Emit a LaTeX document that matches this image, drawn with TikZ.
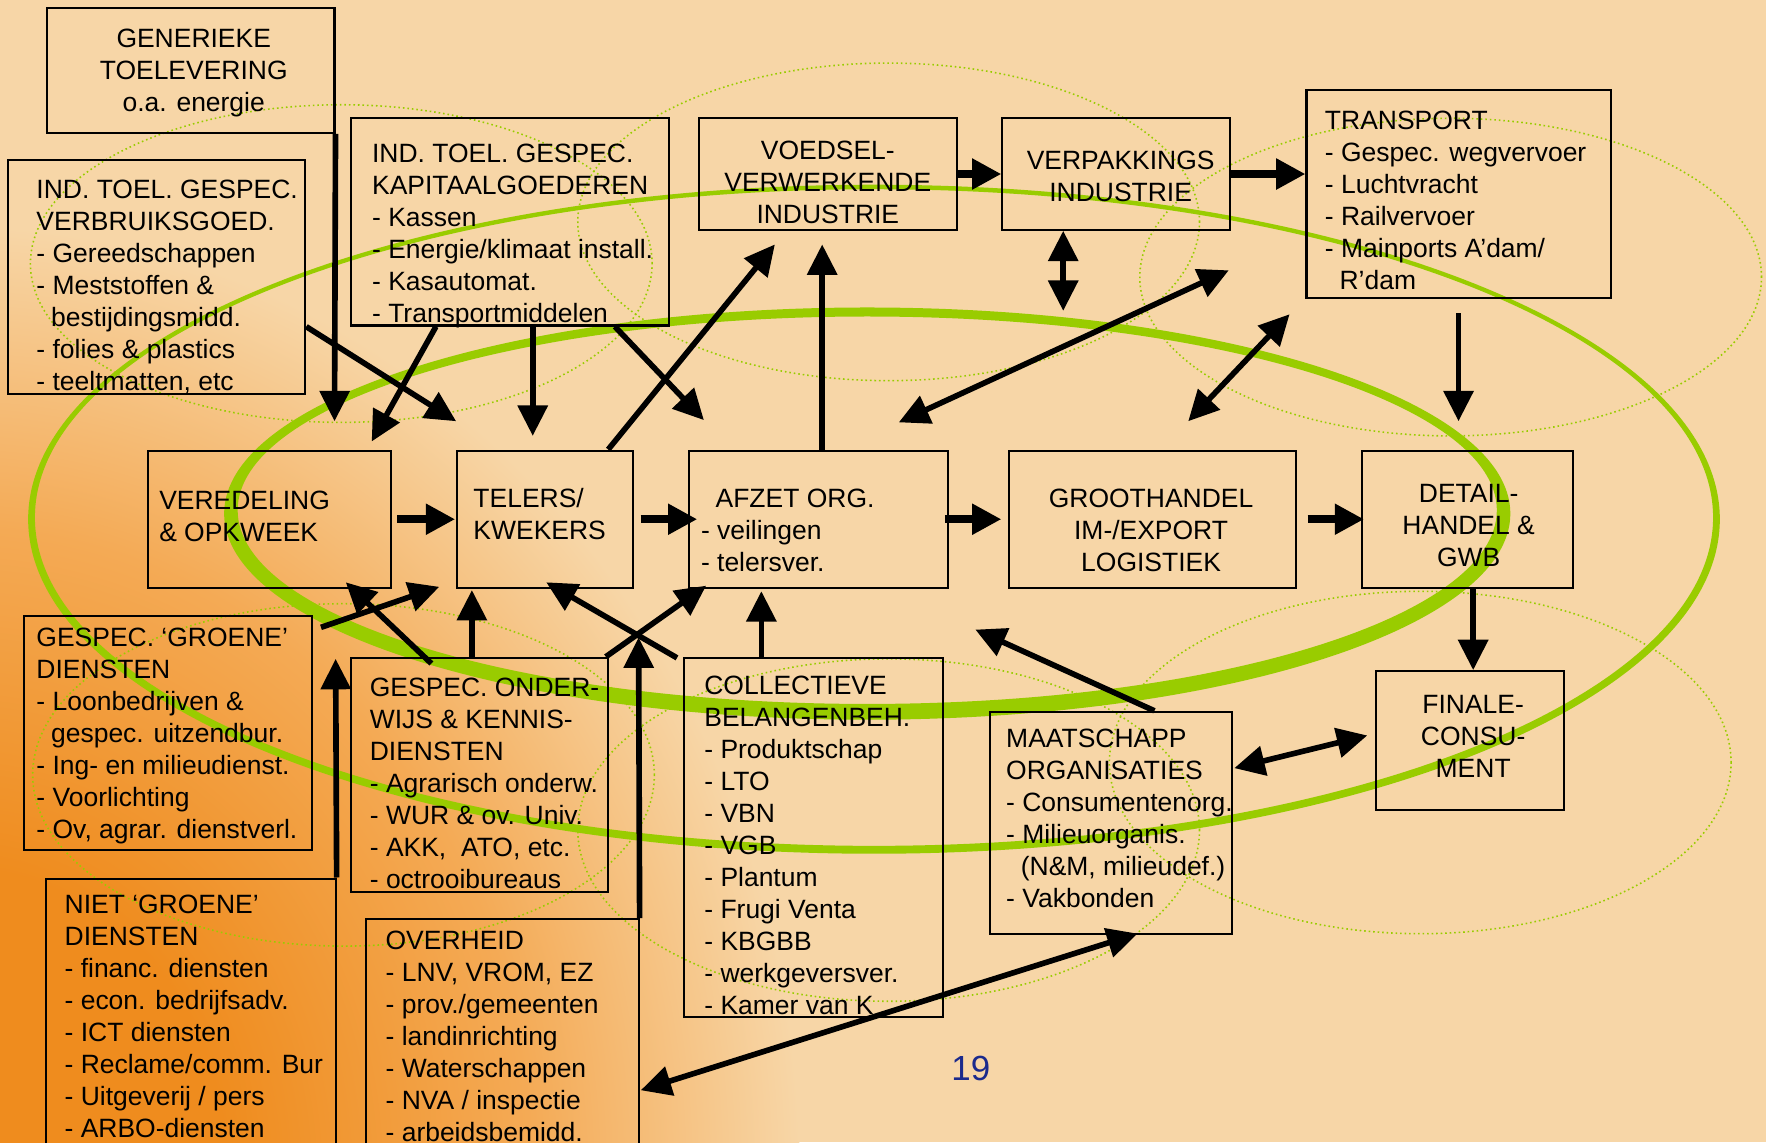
\documentclass[tikz,border=0pt]{standalone}
\usepackage{fontspec}
\setmainfont{Liberation Sans}
\usetikzlibrary{arrows.meta,fit}

\definecolor{peach}{HTML}{F7D6A7}
\definecolor{deeporange}{HTML}{EF8C1E}
\definecolor{midorange}{HTML}{F4AA55}
\definecolor{leaf}{HTML}{99CC00}
\definecolor{pagenum}{HTML}{1B2A8C}

\pgfdeclareradialshading{glow}{\pgfpoint{0bp}{0bp}}{%
  color(0bp)=(deeporange); color(8bp)=(deeporange); color(17bp)=(midorange);
  color(25bp)=(peach); color(50bp)=(peach)}

% zero-width strut fixing the top of every text block
\newcommand\firststrut{\rule{0pt}{10pt}}
\newcommand\indentln{\hspace*{6.5pt}}

\tikzset{
  bigtri/.tip={Triangle[length=13.5pt,width=13pt]},
  flowtri/.tip={Triangle[length=13pt,width=13pt]},
}

\begin{document}
\begin{tikzpicture}[x=0.5pt,y=-0.5pt,
  font=\fontsize{11.75pt}{14.2pt}\selectfont,
  panel/.style={draw=black, line width=0.9pt, inner sep=0pt},
  ltxt/.style={inner sep=0pt, align=left, anchor=north west},
  ctxt/.style={inner sep=0pt, align=center, anchor=north},
  halo/.style={draw=leaf, line width=0.7pt, dash pattern=on 0.7pt off 1.3pt},
  link/.style={line width=2.5pt, -bigtri},
  link2/.style={line width=2.5pt, bigtri-bigtri},
  flow/.style={line width=3.7pt, -flowtri},
]
\useasboundingbox (0,0) rectangle (1568,1014);
\begin{scope}
\clip (0,0) rectangle (1568,1014);

% background with orange glow in the lower left corner
\fill[peach] (0,0) rectangle (1568,1014);
\shade[shading=glow] (-40,1040) ellipse [x radius=375pt, y radius=420pt];

% dotted rings
\draw[halo] (303,234) ellipse [x radius=138pt, y radius=70.5pt];
\draw[halo] (789,197) ellipse [x radius=138pt, y radius=70.5pt];
\draw[halo] (1288,246) ellipse [x radius=138pt, y radius=70.5pt];
\draw[halo] (305,688) ellipse [x radius=138pt, y radius=76pt];
\draw[halo] (789,737) ellipse [x radius=138pt, y radius=76pt];
\draw[halo] (1261,677) ellipse [x radius=138pt, y radius=76pt];

% green rings: outer thin, inner thick
\fill[leaf, even odd rule] (776,461) ellipse [x radius=375.5pt, y radius=148.5pt]
                           (776,459.5) ellipse [x radius=372.5pt, y radius=145.75pt];
\fill[leaf, even odd rule] (770,456) ellipse [x radius=285.5pt, y radius=91.5pt]
                           (770,453) ellipse [x radius=279.5pt, y radius=86pt];

% boxes
\node[panel, fit={(42,7) (297,118)}] (gen) {};
\node[panel, fit={(7,142) (271,350)}] (verbr) {};
\node[panel, fit={(312,105) (594,289)}] (kap) {};
\node[panel, fit={(621,105) (850,204)}] (voed) {};
\node[panel, fit={(890,105) (1092,204)}] (verp) {};
\node[panel, fit={(1160,80) (1430,265)}] (trans) {};
\node[panel, fit={(131,400) (347,522)}] (ver) {};
\node[panel, fit={(406,400) (562,522)}] (tel) {};
\node[panel, fit={(612,400) (842,522)}] (afz) {};
\node[panel, fit={(896,400) (1151,522)}] (gro) {};
\node[panel, fit={(1209,400) (1397,522)}] (det) {};
\node[panel, fit={(21,547) (277,755)}] (groen) {};
\node[panel, fit={(312,584) (540,792)}] (ond) {};
\node[panel, fit={(607,584) (837,903)}] (col) {};
\node[panel, fit={(879,632) (1094,829)}] (maat) {};
\node[panel, fit={(1222,596) (1389,719)}] (fin) {};
\node[panel, fit={(41,780) (298,1030)}] (niet) {};
\node[panel, fit={(325,816) (567,1030)}] (ovh) {};

% box texts
\node[ctxt] (gen-t) at (172,22) {\firststrut GENERIEKE\\TOELEVERING\\o.a. energie};
\node[ltxt] (verbr-t) at (32,156) {\firststrut IND. TOEL. GESPEC.\\VERBRUIKSGOED.\\- Gereedschappen\\- Meststoffen \&\\\indentln bestijdingsmidd.\\- folies \& plastics\\- teeltmatten, etc};
\node[ltxt] (kap-t) at (330,124) {\firststrut IND. TOEL. GESPEC.\\KAPITAALGOEDEREN\\- Kassen\\- Energie/klimaat install.\\- Kasautomat.\\- Transportmiddelen};
\node[ctxt] (voed-t) at (735,121) {\firststrut VOEDSEL-\\VERWERKENDE\\INDUSTRIE};
\node[ctxt] (verp-t) at (995,130) {\firststrut VERPAKKINGS\\INDUSTRIE};
\node[ltxt] (trans-t) at (1176,95) {\firststrut TRANSPORT\\- Gespec. wegvervoer\\- Luchtvracht\\- Railvervoer\\- Mainports A’dam/\\\indentln R’dam};
\node[ltxt] (ver-t) at (141,432) {\firststrut VEREDELING\\\& OPKWEEK};
\node[ltxt] (tel-t) at (420,430) {\firststrut TELERS/\\KWEKERS};
\node[ltxt] (afz-t) at (622,430) {\firststrut\indentln AFZET ORG.\\- veilingen\\- telersver.};
\node[ctxt] (gro-t) at (1022,430) {\firststrut GROOTHANDEL\\IM-/EXPORT\\LOGISTIEK};
\node[ctxt] (det-t) at (1304,426) {\firststrut DETAIL-\\HANDEL \&\\GWB};
\node[ltxt] (groen-t) at (32,554) {\firststrut GESPEC. ‘GROENE’\\DIENSTEN\\- Loonbedrijven \&\\\indentln gespec. uitzendbur.\\- Ing- en milieudienst.\\- Voorlichting\\- Ov, agrar. dienstverl.};
\node[ltxt] (ond-t) at (328,598) {\firststrut GESPEC. ONDER-\\WIJS \& KENNIS-\\DIENSTEN\\- Agrarisch onderw.\\- WUR \& ov. Univ.\\- AKK,\ \ ATO, etc.\\- octrooibureaus};
\node[ltxt] (col-t) at (625,596) {\firststrut COLLECTIEVE\\BELANGENBEH.\\- Produktschap\\- LTO\\- VBN\\- VGB\\- Plantum\\- Frugi Venta\\- KBGBB\\- werkgeversver.\\- Kamer van K};
\node[ltxt] (maat-t) at (893,643) {\firststrut MAATSCHAPP\\ORGANISATIES\\- Consumentenorg.\\- Milieuorganis.\\\indentln (N\&M, milieudef.)\\- Vakbonden};
\node[ctxt] (fin-t) at (1308,613) {\firststrut FINALE-\\CONSU-\\MENT};
\node[ltxt] (niet-t) at (57,791) {\firststrut NIET ‘GROENE’\\DIENSTEN\\- financ. diensten\\- econ. bedrijfsadv.\\- ICT diensten\\- Reclame/comm. Bur\\- Uitgeverij / pers\\- ARBO-diensten};
\node[ltxt] (ovh-t) at (342,823) {\firststrut OVERHEID\\- LNV, VROM, EZ\\- prov./gemeenten\\- landinrichting\\- Waterschappen\\- NVA / inspectie\\- arbeidsbemidd.};

\node[font=\fontsize{15.5pt}{18pt}\selectfont, text=pagenum, inner sep=0pt] (pg) at (862,949) {19};

% free arrow ends
\coordinate (genTip) at (297,374);
\coordinate (verbrTip) at (405,374);
\coordinate (kapTipA) at (330,392);
\coordinate (kapTipB) at (473,387);
\coordinate (kapTipC) at (625,373);
\coordinate (voedTipA) at (688,217);
\coordinate (voedTipB) at (730,217);
\coordinate (verpTip) at (944,276);
\coordinate (hubA) at (798,375);
\coordinate (hubB) at (1091,240);
\coordinate (hubC) at (1055,374);
\coordinate (hubD) at (1145,279);
\coordinate (detTop) at (1295,374);
\coordinate (finTop) at (1308,595);
\coordinate (groenStart) at (285,557);
\coordinate (telTipA) at (390,521);
\coordinate (verTip) at (307,517);
\coordinate (afzTipA) at (627,520);
\coordinate (telTipB) at (485,517);
\coordinate (maatTip) at (866,559);
\coordinate (finSide) at (1214,653);
\coordinate (nietTip) at (298,585);
\coordinate (ovhTip) at (567,566);

% supply side
\draw[link] (gen.south east) -- (genTip);
\draw[link] ([shift={(0,44)}]verbr.east) -- (verbrTip);
\draw[link] ([shift={(76,0)}]kap.south west) -- (kapTipA);
\draw[link] ([shift={(20,0)}]kap.south) -- (kapTipB);
\draw[link] ([shift={(-49,0)}]kap.south east) -- (kapTipC);
\draw[link] ([shift={(56,0)}]tel.north) -- (voedTipA);
\draw[link] ([shift={(3,0)}]afz.north) -- (voedTipB);
\draw[flow] (voed.east) -- (verp.west);
\draw[flow] (verp.east) -- (verp.east -| trans.west);
\draw[link2] ([shift={(-47,0)}]verp.south) -- (verpTip);
\draw[link2] (hubA) -- (hubB);
\draw[link2] (hubC) -- (hubD);
\draw[link] ([shift={(0,12)}]trans.south) -- (detTop);

% main chain
\draw[flow] ([shift={(5,0)}]ver.east) -- ([shift={(-1,0)}]tel.west);
\draw[flow] ([shift={(6,0)}]tel.east) -- ([shift={(8,0)}]afz.west);
\draw[flow] ([shift={(-4,0)}]afz.east) -- ([shift={(-6,0)}]gro.west);
\draw[flow] ([shift={(9,0)}]gro.east) -- ([shift={(3,0)}]det.west);
\draw[link] ([shift={(5,0)}]det.south) -- (finTop);

% services and organisations
\draw[link] (groenStart) -- (telTipA);
\draw[link] ([shift={(-43,6)}]ond.north) -- (verTip);
\draw[link] ([shift={(-7,0)}]ond.north) -- ([shift={(-65,1)}]tel.south);
\draw[link] ([shift={(-3,0)}]ond.north east) -- (afzTipA);
\draw[link] ([shift={(-5,1)}]col.north west) -- (telTipB);
\draw[link] ([shift={(-46,0)}]col.north) -- ([shift={(-51,2)}]afz.south);
\draw[link] ([shift={(38.5,0)}]maat.north) -- (maatTip);
\draw[link2] ([shift={(1,-48.5)}]maat.east) -- (finSide);
\draw[link] (niet.north east) -- (nietTip);
\draw[link] (ovh.north east) -- (ovhTip);
\draw[link2] ([shift={(1,45)}]ovh.east) -- ([shift={(23.5,-1)}]maat.south);

\end{scope}
\end{tikzpicture}
\end{document}
